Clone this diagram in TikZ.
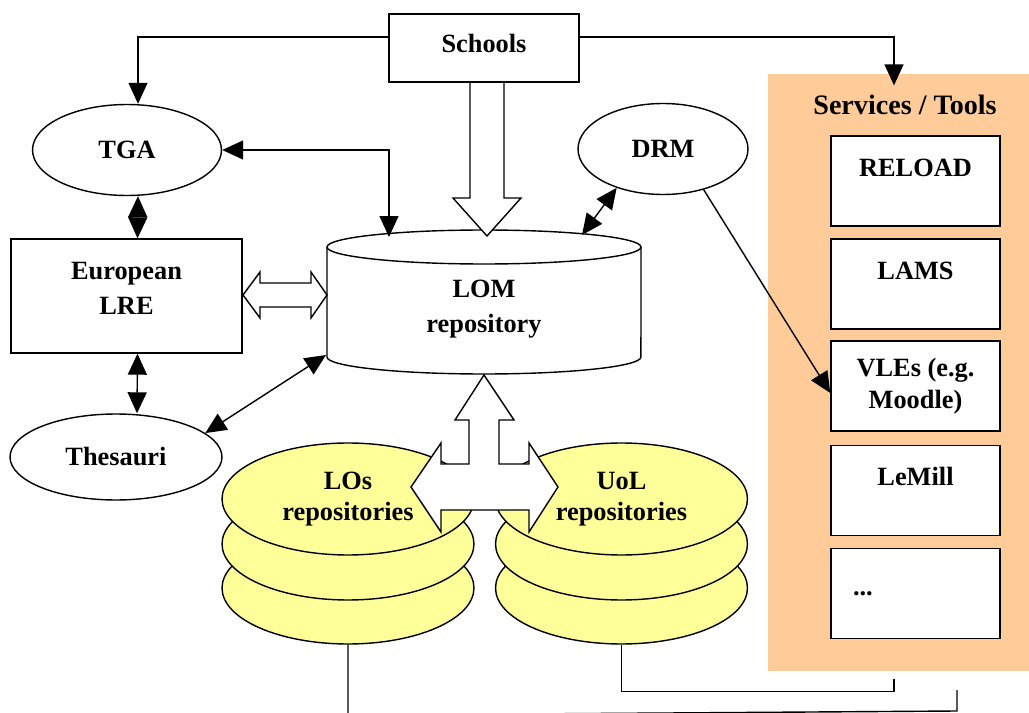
\documentclass[tikz,border=0pt]{standalone}
\usepackage{fontspec}
\setmainfont{Liberation Serif}
\usetikzlibrary{arrows.meta,calc,shapes.geometric}
\definecolor{panelorange}{HTML}{FFCC99}
\definecolor{repoyellow}{HTML}{FFFF99}

\begin{document}
\begin{tikzpicture}[x=0.02cm, y=-0.02cm, line width=0.8pt,
    lbl/.style={font=\bfseries\fontsize{15}{18}\selectfont, align=center},
    box/.style={lbl, draw, fill=white, inner sep=0pt},
    oval/.style={lbl, draw, ellipse, fill=white, inner sep=0pt},
    disk/.style={lbl, draw, ellipse, fill=repoyellow, inner sep=0pt,
        minimum width=5.04cm, minimum height=2.24cm},
    tool/.style={box, minimum width=3.38cm, minimum height=1.8cm},
    arr/.style={-{Triangle[length=0.42cm,width=0.38cm]}},
    darr/.style={{Triangle[length=0.42cm,width=0.38cm]}-{Triangle[length=0.42cm,width=0.38cm]}},
    fat/.style={draw, fill=white, line join=miter}]
\useasboundingbox (0,0) rectangle (1029,713);

% services / tools panel
\node[fill=panelorange, minimum width=5.22cm, minimum height=11.94cm, inner sep=0pt] (panel) at (898.5,372.5) {};
\node[lbl, font=\bfseries\fontsize{16}{19}\selectfont] (svc) at (905,105) {Services / Tools};
\node[tool] (reload) at (915.5,181) {\strut RELOAD\\\mbox{}};
\node[tool] (lams) at (915.5,284) {\strut LAMS\\\mbox{}};
\node[tool] (vle) at (915.5,386) {VLEs (e.g.\\Moodle)};
\node[tool] (lemill) at (915.5,490.5) {\strut LeMill\\\mbox{}};
\node[tool, align=left, text width=2.5cm] (more) at (915.5,593.5) {...};

% ovals
\node[oval, minimum width=3.78cm, minimum height=1.82cm] (tga) at (127,150) {TGA};
\node[oval, minimum width=3.4cm, minimum height=1.82cm] (drm) at (663,149) {DRM};
\node[oval, minimum width=4.24cm, minimum height=1.72cm] (thes) at (116,457) {Thesauri};
\node[box, minimum width=4.62cm, minimum height=2.28cm] (lre) at (126.5,296) {European\\[2pt]LRE\\[-9pt]\mbox{}};

% LOM repository
\draw[fill=white] (327,247) -- (327,357) arc[start angle=180, end angle=360, x radius=3.14cm, y radius=0.34cm] -- (641,247);
\draw[fill=white] (484,247) ellipse [x radius=3.14cm, y radius=0.34cm];
\node[lbl] (lom) at (484,309) {LOM\\[2pt]repository};
\coordinate (lomA) at (389,237);
\coordinate (lomB) at (582,235);
\coordinate (lomC) at (326,355);

% repositories
\node[disk] (los3) at (348,588) {};
\node[disk] (los2) at (348,544) {};
\node[disk] (los1) at (348,499) {LOs\\repositories};
\node[disk] (uol3) at (621.5,588) {};
\node[disk] (uol2) at (621.5,544) {};
\node[disk] (uol1) at (621.5,499) {UoL\\repositories};

% block arrows
\draw[fat] (470,83) -- (470,198) -- (453,198) -- (487,236) -- (521,198) -- (504,198) -- (504,83);
\draw[fat] (243,295) -- (260,272) -- (260,283) -- (311,283) -- (311,272) -- (327,295)
    -- (311,318) -- (311,307) -- (260,307) -- (260,318) -- cycle;
\draw[fat] (484,375) -- (514,420) -- (499,420) -- (499,464) -- (529,464) -- (529,443)
    -- (558,487) -- (529,532) -- (529,510) -- (441,510) -- (441,532) -- (411,487)
    -- (441,443) -- (441,464) -- (469,464) -- (469,420) -- (455,420) -- cycle;

\node[box, minimum width=3.8cm, minimum height=1.36cm] (schools) at (484,48) {Schools\\[-13pt]\mbox{}};

% connectors
\coordinate (endA) at (894,679);
\coordinate (endB) at (957,690);
\draw[arr] ($(schools.west)+(0,-11)$) -| ($(tga.north)+(11,0)$);
\draw[arr] ($(schools.east)+(0,-11)$) -| ($(panel.north)+(-4.5,12)$);
\draw[darr] (tga.east) -| (lomA);
\draw[darr] (drm.220) -- (lomB);
\draw[arr] (drm.315) -- ($(vle.west)+(0,7)$);
\draw[darr] ($(tga.south)+(11,0)$) -- ($(lre.north)+(11,0)$);
\draw[darr] ($(lre.south)+(11,0)$) -- ($(thes.north)+(21,0)$);
\draw[darr] (lomC) -- (thes.15);
\draw (uol3.south) -- ++(0,47) -| (endA);
\draw (los3.south) -- ++(0,70.5) -- ($(endB)+(0,21)$) -- (endB);
\end{tikzpicture}
\end{document}
